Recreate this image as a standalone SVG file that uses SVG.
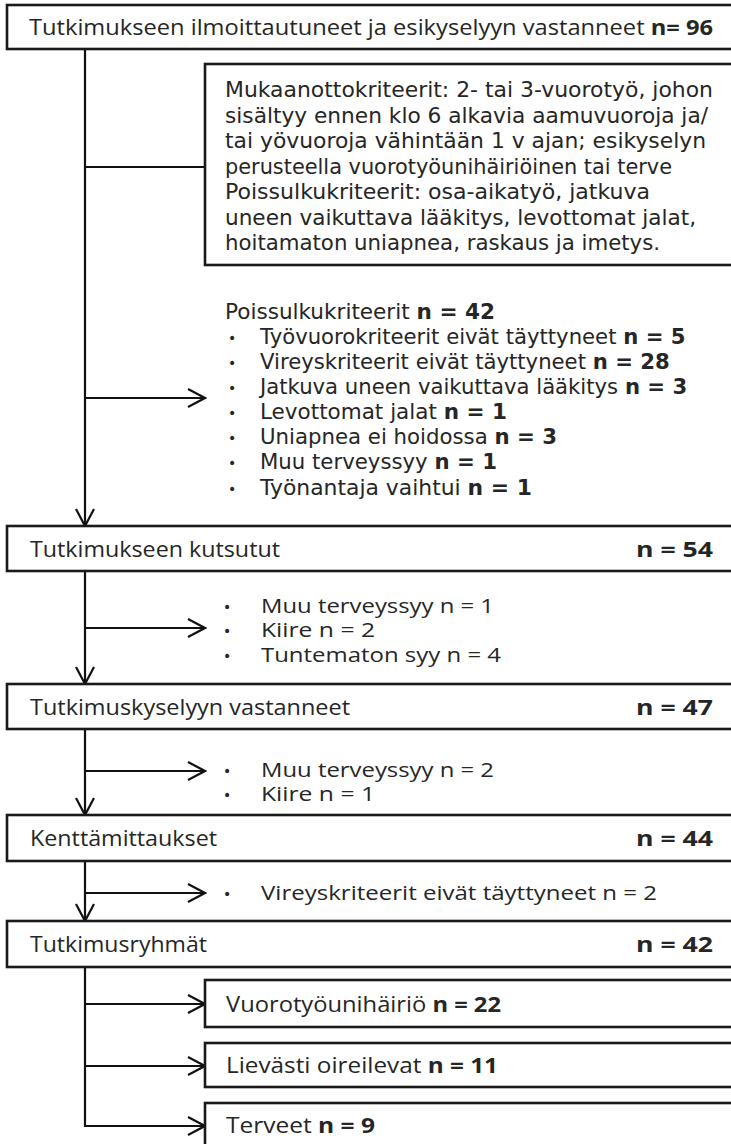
<svg xmlns="http://www.w3.org/2000/svg" width="731" height="1144" viewBox="0 0 731 1144">
<defs>
<marker id="arr" viewBox="0 0 20 22" refX="18" refY="11" markerWidth="20" markerHeight="22" markerUnits="userSpaceOnUse" orient="auto">
<path d="M1,2 L18,11 L1,20" fill="none" stroke="#111" stroke-width="2.2"/>
</marker>
<style>
.box{fill:#fff;stroke:#1a1a1a;stroke-width:2.6}
.ln{fill:none;stroke:#111;stroke-width:2.2}
.t{font-family:"Open Sans","Noto Sans",sans-serif;font-size:22px;fill:#262626}
.l{font-family:"Open Sans","Noto Sans",sans-serif;font-size:20.5px;fill:#262626}
.v{font-family:"DejaVu Sans","Verdana",sans-serif;font-size:21.2px;fill:#262626}
.bu{font-family:"DejaVu Sans",sans-serif;font-size:14px;fill:#262626}
.b{font-weight:bold}
</style>
</defs>
<rect width="731" height="1144" fill="#fff"/>
<g id="connectors">
<line class="ln" x1="85" y1="49" x2="85" y2="526" marker-end="url(#arr)"/>
<line class="ln" x1="85" y1="167" x2="205" y2="167"/>
<line class="ln" x1="85" y1="398" x2="205" y2="398" marker-end="url(#arr)"/>
<line class="ln" x1="85" y1="571" x2="85" y2="684" marker-end="url(#arr)"/>
<line class="ln" x1="85" y1="628" x2="205" y2="628" marker-end="url(#arr)"/>
<line class="ln" x1="85" y1="729" x2="85" y2="815" marker-end="url(#arr)"/>
<line class="ln" x1="85" y1="771" x2="205" y2="771" marker-end="url(#arr)"/>
<line class="ln" x1="85" y1="861" x2="85" y2="921" marker-end="url(#arr)"/>
<line class="ln" x1="85" y1="893" x2="205" y2="893" marker-end="url(#arr)"/>
<line class="ln" x1="85" y1="967" x2="85" y2="1127"/>
<line class="ln" x1="84" y1="1004" x2="205" y2="1004" marker-end="url(#arr)"/>
<line class="ln" x1="84" y1="1066" x2="205" y2="1066" marker-end="url(#arr)"/>
<line class="ln" x1="84" y1="1126" x2="205" y2="1126" marker-end="url(#arr)"/>
</g>
<g id="n_top">
<rect class="box" x="7" y="5" width="740" height="44"/>
<text class="t" x="29" y="35" textLength="684" lengthAdjust="spacingAndGlyphs">Tutkimukseen ilmoittautuneet ja esikyselyyn vastanneet <tspan class="b">n= 96</tspan></text>
</g>
<g id="n_criteria">
<rect class="box" x="205" y="64" width="540" height="201"/>
<text class="v" x="225" y="97" textLength="488" lengthAdjust="spacingAndGlyphs">Mukaanottokriteerit: 2- tai 3-vuorotyö, johon</text>
<text class="v" x="225" y="122.5" textLength="483" lengthAdjust="spacingAndGlyphs">sisältyy ennen klo 6 alkavia aamuvuoroja ja/</text>
<text class="v" x="225" y="148" textLength="481" lengthAdjust="spacingAndGlyphs">tai yövuoroja vähintään 1 v ajan; esikyselyn</text>
<text class="v" x="225" y="173.5" textLength="447" lengthAdjust="spacingAndGlyphs">perusteella vuorotyöunihäiriöinen tai terve</text>
<text class="v" x="225" y="199" textLength="425" lengthAdjust="spacingAndGlyphs">Poissulkukriteerit: osa-aikatyö, jatkuva</text>
<text class="v" x="225" y="224.5" textLength="471" lengthAdjust="spacingAndGlyphs">uneen vaikuttava lääkitys, levottomat jalat,</text>
<text class="v" x="225" y="250" textLength="435" lengthAdjust="spacingAndGlyphs">hoitamaton uniapnea, raskaus ja imetys.</text>
</g>
<g id="n_excl1">
<text class="v" x="225" y="319" textLength="270" lengthAdjust="spacingAndGlyphs">Poissulkukriteerit <tspan class="b">n = 42</tspan></text>
<text class="bu" x="228" y="343">•</text><text class="v" x="260" y="344">Työvuorokriteerit eivät täyttyneet <tspan class="b">n = 5</tspan></text>
<text class="bu" x="228" y="368">•</text><text class="v" x="260" y="369">Vireyskriteerit eivät täyttyneet <tspan class="b">n = 28</tspan></text>
<text class="bu" x="228" y="393">•</text><text class="v" x="260" y="394">Jatkuva uneen vaikuttava lääkitys <tspan class="b">n = 3</tspan></text>
<text class="bu" x="228" y="418">•</text><text class="v" x="260" y="419" textLength="247" lengthAdjust="spacingAndGlyphs">Levottomat jalat <tspan class="b">n = 1</tspan></text>
<text class="bu" x="228" y="443">•</text><text class="v" x="260" y="444" textLength="297" lengthAdjust="spacingAndGlyphs">Uniapnea ei hoidossa <tspan class="b">n = 3</tspan></text>
<text class="bu" x="228" y="468">•</text><text class="v" x="260" y="469" textLength="237" lengthAdjust="spacingAndGlyphs">Muu terveyssyy <tspan class="b">n = 1</tspan></text>
<text class="bu" x="228" y="494">•</text><text class="v" x="260" y="495" textLength="272" lengthAdjust="spacingAndGlyphs">Työnantaja vaihtui <tspan class="b">n = 1</tspan></text>
</g>
<g id="n_invited">
<rect class="box" x="7" y="526" width="740" height="45"/>
<text class="t" x="30" y="557" textLength="250" lengthAdjust="spacingAndGlyphs">Tutkimukseen kutsutut</text>
<text class="t b" x="636" y="557" textLength="77" lengthAdjust="spacingAndGlyphs">n = 54</text>
</g>
<g id="n_excl2">
<text class="bu"><tspan x="223" y="612">•</tspan><tspan x="223" y="636">•</tspan><tspan x="223" y="661">•</tspan></text>
<text class="l"><tspan x="261" y="613" textLength="233" lengthAdjust="spacingAndGlyphs">Muu terveyssyy n = 1</tspan><tspan x="261" y="637" textLength="114" lengthAdjust="spacingAndGlyphs">Kiire n = 2</tspan><tspan x="261" y="662" textLength="240" lengthAdjust="spacingAndGlyphs">Tuntematon syy n = 4</tspan></text>
</g>
<g id="n_survey">
<rect class="box" x="7" y="684" width="740" height="45"/>
<text class="t" x="30" y="715" textLength="320" lengthAdjust="spacingAndGlyphs">Tutkimuskyselyyn vastanneet</text>
<text class="t b" x="636" y="715" textLength="77" lengthAdjust="spacingAndGlyphs">n = 47</text>
</g>
<g id="n_excl3">
<text class="bu"><tspan x="223" y="776">•</tspan><tspan x="223" y="800">•</tspan></text>
<text class="l"><tspan x="261" y="777" textLength="233" lengthAdjust="spacingAndGlyphs">Muu terveyssyy n = 2</tspan><tspan x="261" y="801" textLength="114" lengthAdjust="spacingAndGlyphs">Kiire n = 1</tspan></text>
</g>
<g id="n_field">
<rect class="box" x="7" y="815" width="740" height="46"/>
<text class="t" x="30" y="846" textLength="187" lengthAdjust="spacingAndGlyphs">Kenttämittaukset</text>
<text class="t b" x="636" y="846" textLength="77" lengthAdjust="spacingAndGlyphs">n = 44</text>
</g>
<g id="n_excl4">
<text class="bu" x="223" y="899">•</text><text class="l" x="261" y="900" textLength="396" lengthAdjust="spacingAndGlyphs">Vireyskriteerit eivät täyttyneet n = 2</text>
</g>
<g id="n_groups">
<rect class="box" x="7" y="921" width="740" height="46"/>
<text class="t" x="30" y="952" textLength="177" lengthAdjust="spacingAndGlyphs">Tutkimusryhmät</text>
<text class="t b" x="636" y="952" textLength="77" lengthAdjust="spacingAndGlyphs">n = 42</text>
</g>
<g id="n_g1">
<rect class="box" x="205" y="980" width="540" height="47"/>
<text class="t" x="226" y="1012" textLength="275" lengthAdjust="spacingAndGlyphs">Vuorotyöunihäiriö <tspan class="b">n = 22</tspan></text>
</g>
<g id="n_g2">
<rect class="box" x="205" y="1043" width="540" height="44"/>
<text class="t" x="226" y="1073" textLength="272" lengthAdjust="spacingAndGlyphs">Lievästi oireilevat <tspan class="b">n = 11</tspan></text>
</g>
<g id="n_g3">
<rect class="box" x="205" y="1103" width="540" height="47"/>
<text class="t" x="226" y="1133" textLength="149" lengthAdjust="spacingAndGlyphs">Terveet <tspan class="b">n = 9</tspan></text>
</g>
</svg>
